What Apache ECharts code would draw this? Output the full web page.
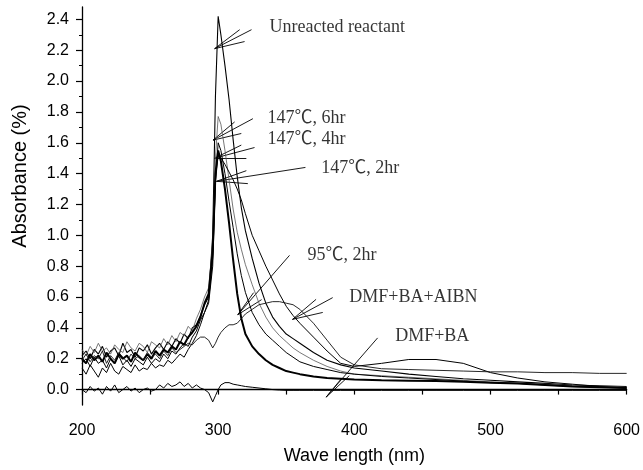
<!DOCTYPE html>
<html><head><meta charset="utf-8">
<script src="https://cdn.jsdelivr.net/npm/echarts@6/dist/echarts.min.js"></script>
<style>html,body{margin:0;padding:0;background:#fff}#c{width:643px;height:470px}</style>
</head><body><div id="c"></div>
<script>
// Wavelength grid (nm)
const wavelengths = [200,203,206,209,212,215,218,221,224,227,230,233,236,239,242,245,248,251,254,257,260,263,266,269,272,275,278,281,284,287,290,
  293,296,298,300,302,305,308,311,314,317,320,325,330,335,340,345,350,355,360,370,380,390,400,420,440,460,480,500,520,540,560,580,600];

// Absorbance values
const unreacted = [0.22,0.25,0.2,0.26,0.23,0.28,0.21,0.25,0.27,0.22,0.3,0.24,0.26,0.21,0.27,0.25,0.29,0.23,0.27,0.3,0.26,0.31,0.28,0.33,0.3,0.36,0.33,0.4,0.42,0.48,0.55,
  0.6,1.0,1.9,2.42,2.3,2.1,1.88,1.62,1.38,1.18,1.03,0.85,0.69,0.56,0.47,0.41,0.36,0.33,0.3,0.24,0.19,0.16,0.14,0.12,0.1,0.085,0.07,0.06,0.05,0.04,0.03,0.025,0.02];
const c147h6 = [0.26,0.22,0.28,0.24,0.3,0.25,0.27,0.23,0.29,0.26,0.24,0.31,0.27,0.25,0.3,0.28,0.24,0.31,0.29,0.27,0.33,0.29,0.35,0.31,0.37,0.35,0.41,0.38,0.46,0.52,0.6,
  0.66,0.95,1.5,1.77,1.72,1.55,1.36,1.17,1.02,0.91,0.81,0.68,0.56,0.47,0.4,0.35,0.31,0.27,0.24,0.19,0.15,0.12,0.1,0.09,0.08,0.07,0.06,0.05,0.04,0.035,0.025,0.02,0.015];
const c147h4 = [0.17,0.2,0.15,0.21,0.17,0.19,0.14,0.2,0.17,0.22,0.16,0.19,0.15,0.2,0.18,0.16,0.21,0.17,0.2,0.18,0.23,0.2,0.25,0.23,0.27,0.3,0.28,0.34,0.38,0.45,0.5,
  0.56,0.8,1.35,1.6,1.55,1.4,1.22,1.05,0.88,0.74,0.63,0.5,0.42,0.36,0.32,0.28,0.24,0.21,0.18,0.15,0.13,0.11,0.1,0.085,0.075,0.065,0.055,0.045,0.04,0.03,0.02,0.015,0.01];
const c147h2 = [0.2,0.17,0.23,0.19,0.22,0.18,0.24,0.2,0.17,0.23,0.2,0.22,0.18,0.24,0.21,0.19,0.23,0.2,0.25,0.22,0.26,0.24,0.28,0.26,0.31,0.29,0.34,0.37,0.41,0.47,0.56,
  0.62,0.9,1.4,1.55,1.48,1.3,1.08,0.84,0.62,0.46,0.36,0.28,0.23,0.19,0.16,0.14,0.12,0.11,0.1,0.085,0.075,0.07,0.065,0.06,0.058,0.055,0.05,0.045,0.04,0.03,0.02,0.015,0.01];
const dmfBaAibn = [0.14,0.1,0.16,0.12,0.08,0.14,0.11,0.17,0.12,0.1,0.15,0.13,0.11,0.16,0.12,0.14,0.13,0.17,0.14,0.16,0.15,0.19,0.17,0.2,0.23,0.21,0.26,0.3,0.35,0.42,0.5,
  0.58,0.85,1.35,1.52,1.5,1.46,1.41,1.36,1.3,1.23,1.14,1.0,0.9,0.8,0.71,0.62,0.54,0.48,0.43,0.34,0.25,0.17,0.15,0.17,0.195,0.195,0.17,0.11,0.075,0.05,0.035,0.02,0.01];
const c95h2 = [0.19,0.23,0.18,0.22,0.2,0.25,0.17,0.22,0.19,0.24,0.21,0.18,0.23,0.2,0.22,0.19,0.24,0.21,0.23,0.2,0.25,0.22,0.27,0.24,0.26,0.28,0.3,0.29,0.32,0.34,0.34,
  0.32,0.27,0.3,0.34,0.37,0.4,0.42,0.42,0.43,0.46,0.49,0.52,0.55,0.56,0.57,0.57,0.56,0.55,0.52,0.43,0.32,0.21,0.16,0.135,0.13,0.125,0.12,0.115,0.115,0.11,0.11,0.105,0.105];
const dmfBa = [0.0,-0.02,0.02,-0.01,0.01,-0.03,0.02,-0.01,0.03,-0.02,0.0,0.02,-0.01,0.01,-0.02,0.0,0.01,-0.01,0.0,0.03,0.01,0.04,0.02,0.03,0.05,0.02,0.04,0.01,0.03,0.01,0.0,
  -0.02,-0.08,-0.04,0.0,0.03,0.045,0.045,0.035,0.03,0.025,0.02,0.015,0.01,0.005,0.0,-0.003,-0.005,-0.005,-0.005,-0.005,-0.005,-0.005,-0.005,-0.005,-0.005,-0.005,-0.005,-0.005,-0.005,-0.005,-0.005,-0.005,-0.005];

// Annotation texts (data coords of left edge / vertical middle)
const labelTexts = ['Unreacted reactant','147℃, 6hr','147℃, 4hr','147℃, 2hr','95℃, 2hr','DMF+BA+AIBN','DMF+BA'];
const labelAt = [[337.7,2.346],[336.3,1.756],[336.3,1.622],[375.8,1.436],[365.6,0.872],[396.3,0.596],[430.0,0.346]];
// Arrow tips and the far ends of the lines that meet at each tip
const arrowTips = [[297.4,2.21],[296.2,1.617],[297.4,1.5],[298.7,1.35],[314.4,0.485],[354.6,0.455],[379.3,-0.049]];
const arrowEnds = [
  [[324.5,2.333],[315.8,2.333],[319.4,2.256]],
  [[325.5,1.756],[312.1,1.735],[317.0,1.66]],
  [[326.7,1.569],[317.0,1.585],[320.7,1.5]],
  [[364.1,1.44],[320.7,1.419],[321.8,1.335]],
  [[352.4,0.87],[326.0,0.628],[331.9,0.583]],
  [[384.1,0.596],[371.9,0.585],[376.8,0.5]],
  [[417.1,0.335],[390.3,0.069],[396.3,0.09]]
];

const yTickLabels = [0,0.2,0.4,0.6,0.8,1.0,1.2,1.4,1.6,1.8,2.0,2.2,2.4];
const yMinorTicks = [0.1,0.3,0.5,0.7,0.9,1.1,1.3,1.5,1.7,1.9,2.1,2.3];
const xTickLabels = [200,300,400,500,600];
const xTicks = [200,250,300,350,400,450,500,550,600];

const zip = arr => wavelengths.map((w,i)=>[w,arr[i]]);
const seriesDefs = [
  {name:'Unreacted reactant', data:unreacted, width:1.1, color:'#000'},
  {name:'147℃, 6hr', data:c147h6, width:0.8, color:'#555'},
  {name:'147℃, 4hr', data:c147h4, width:1, color:'#000'},
  {name:'147℃, 2hr', data:c147h2, width:2, color:'#000'},
  {name:'DMF+BA+AIBN', data:dmfBaAibn, width:1, color:'#000'},
  {name:'95℃, 2hr', data:c95h2, width:0.9, color:'#111'},
  {name:'DMF+BA', data:dmfBa, width:1, color:'#000'}
];

const series = seriesDefs.map(s=>({
  type:'line', name:s.name, data:zip(s.data), showSymbol:false, symbol:'none',
  smooth:false, animation:false, silent:true, xAxisIndex:0, yAxisIndex:0,
  lineStyle:{color:s.color, width:s.width}
}));

const segs = [];
arrowTips.forEach((tip,i)=>arrowEnds[i].forEach(e=>segs.push({coords:[e,tip]})));
series.push({type:'lines', coordinateSystem:'cartesian2d', xAxisIndex:0, yAxisIndex:0,
  data:segs, silent:true, animation:false, lineStyle:{color:'#000', width:0.9, opacity:1}});

series.push({type:'scatter', xAxisIndex:0, yAxisIndex:0, symbolSize:0, silent:true, animation:false,
  data:labelTexts.map((t,i)=>({name:t, value:labelAt[i]})),
  label:{show:true, position:'right', distance:0, formatter:'{b}', color:'#000', fontSize:18,
    fontFamily:'"Liberation Serif","Noto Sans CJK SC",serif'}});

const axisFont = 'Liberation Sans, Arial, sans-serif';
const chart = echarts.init(document.getElementById('c'), null, {renderer:'canvas'});
chart.setOption({
  backgroundColor:'#fff',
  animation:false,
  grid:{left:82, right:15, top:7, bottom:60},
  xAxis:{type:'value', min:200, max:600,
    name:'Wave length (nm)', nameLocation:'middle', nameGap:42,
    nameTextStyle:{fontSize:18, color:'#000', fontFamily:axisFont},
    axisLine:{show:true, lineStyle:{color:'#000', width:1.3}},
    axisTick:{show:true, customValues:xTicks, length:5, lineStyle:{color:'#000', width:1.2}},
    axisLabel:{customValues:xTickLabels, color:'#000', fontSize:16, margin:18, fontFamily:axisFont},
    splitLine:{show:false}},
  yAxis:[
    {type:'value', min:-0.1, max:2.48, position:'left',
      name:'Absorbance (%)', nameLocation:'middle', nameGap:52,
      nameTextStyle:{fontSize:20, color:'#000', fontFamily:axisFont, padding:[0,0,0,60]},
      axisLine:{show:true, lineStyle:{color:'#000', width:1.3}},
      axisTick:{show:true, customValues:yTickLabels, length:6, lineStyle:{color:'#000', width:1.2}},
      axisLabel:{customValues:yTickLabels, color:'#000', fontSize:16, margin:13, fontFamily:axisFont,
        formatter:v=>v.toFixed(1)},
      splitLine:{show:false}},
    {type:'value', min:-0.1, max:2.48, position:'left',
      axisLine:{show:false},
      axisTick:{show:true, customValues:yMinorTicks, length:3, lineStyle:{color:'#000', width:1}},
      axisLabel:{show:false}, splitLine:{show:false}}
  ],
  series:series
});
</script></body></html>
